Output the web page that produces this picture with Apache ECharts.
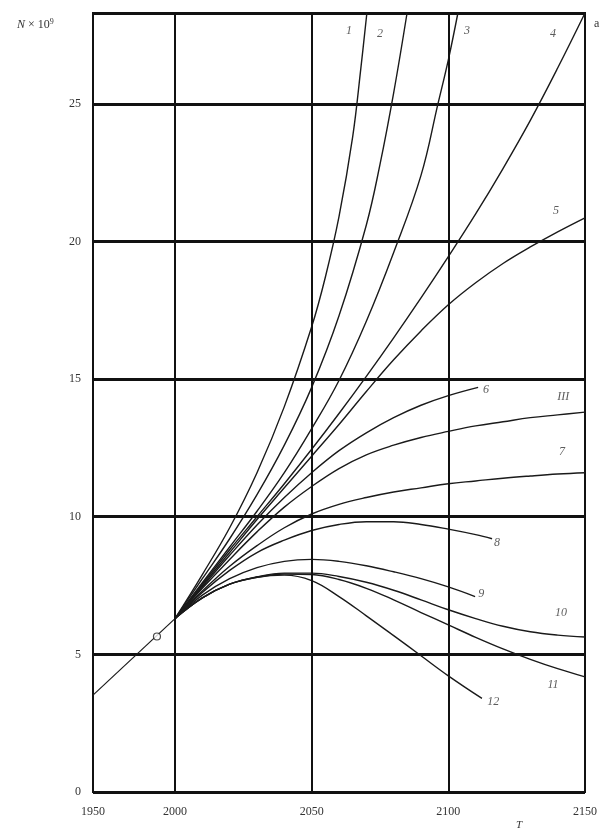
<!DOCTYPE html>
<html><head><meta charset="UTF-8">
<title>N x 10^9 forecast</title>
<script src="https://cdn.jsdelivr.net/npm/echarts@6/dist/echarts.min.js"></script>
<style>html,body{margin:0;padding:0;background:#fff}#chart{width:611px;height:836px}</style>
</head>
<body>
<div id="chart"></div>
<script>
// x tick values and their printed labels (left edge is printed as 1950)
const xTicks = [1970, 2000, 2050, 2100, 2150];
const xTickText = ['1950', '2000', '2050', '2100', '2150'];
const xGrid = [2000, 2050, 2100];

// common history line and the marked point
const baseLine = [[1970, 3.52], [2000, 6.3]];
const marker = [[1993.4, 5.65]];

// forecast curves
const c1 = [[2000,6.3],[2010,7.9],[2020,9.6],[2030,11.6],[2040,14.0],[2050,16.9],[2055,18.7],[2060,20.9],[2065,23.8],[2068,26.3],[2070.2,28.3]];
const c2 = [[2000,6.3],[2010,7.75],[2020,9.2],[2030,10.8],[2040,12.6],[2050,14.7],[2060,17.3],[2070,20.6],[2075,22.8],[2080,25.4],[2084.9,28.3]];
const c3 = [[2000,6.3],[2010,7.6],[2020,8.9],[2030,10.2],[2040,11.6],[2050,13.2],[2060,14.95],[2070,17.1],[2080,19.6],[2090,22.4],[2096.2,25],[2100,26.6],[2103.5,28.3]];
const c4 = [[2000,6.3],[2010,7.55],[2020,8.8],[2030,10.0],[2040,11.2],[2050,12.45],[2060,13.75],[2070,15.1],[2080,16.5],[2090,17.95],[2100,19.45],[2110,21.0],[2120,22.65],[2130,24.4],[2140,26.3],[2150,28.3]];
const c5 = [[2000,6.3],[2010,7.5],[2020,8.7],[2030,9.9],[2040,11.05],[2050,12.2],[2060,13.35],[2070,14.55],[2080,15.7],[2090,16.75],[2100,17.7],[2110,18.5],[2120,19.2],[2130,19.8],[2140,20.35],[2150,20.86]];
const c6 = [[2000,6.3],[2010,7.45],[2020,8.6],[2030,9.7],[2040,10.7],[2050,11.6],[2060,12.4],[2070,13.05],[2080,13.6],[2090,14.05],[2100,14.4],[2110.9,14.7]];
const cIII = [[2000,6.3],[2010,7.4],[2020,8.45],[2030,9.45],[2040,10.35],[2050,11.1],[2060,11.75],[2070,12.25],[2080,12.6],[2090,12.88],[2100,13.1],[2110,13.3],[2120,13.45],[2130,13.6],[2140,13.7],[2150,13.8]];
const c7 = [[2000,6.3],[2010,7.3],[2020,8.2],[2030,8.95],[2040,9.6],[2050,10.1],[2060,10.45],[2070,10.7],[2080,10.9],[2090,11.05],[2100,11.2],[2110,11.3],[2120,11.4],[2130,11.48],[2140,11.55],[2150,11.6]];
const c8 = [[2000,6.3],[2010,7.25],[2020,8.05],[2030,8.7],[2040,9.15],[2050,9.5],[2060,9.72],[2070,9.82],[2080,9.82],[2090,9.72],[2100,9.55],[2110,9.35],[2116,9.2]];
const c9 = [[2000,6.3],[2010,7.15],[2020,7.75],[2030,8.15],[2040,8.38],[2050,8.45],[2060,8.38],[2070,8.22],[2080,8.0],[2090,7.75],[2100,7.45],[2109.8,7.1]];
const c10 = [[2000,6.3],[2010,7.05],[2020,7.55],[2030,7.82],[2040,7.95],[2050,7.95],[2060,7.83],[2070,7.62],[2080,7.33],[2090,6.98],[2100,6.62],[2110,6.3],[2120,6.02],[2130,5.82],[2140,5.7],[2150,5.63]];
const c11 = [[2000,6.3],[2010,7.05],[2020,7.55],[2030,7.8],[2040,7.92],[2050,7.9],[2060,7.72],[2070,7.4],[2080,6.98],[2090,6.52],[2100,6.07],[2110,5.62],[2120,5.2],[2130,4.82],[2140,4.48],[2150,4.18]];
const c12 = [[2000,6.3],[2010,7.05],[2020,7.55],[2030,7.8],[2040,7.88],[2050,7.68],[2060,7.1],[2070,6.4],[2080,5.68],[2090,4.95],[2100,4.22],[2112.3,3.4]];

const curves = [c1, c2, c3, c4, c5, c6, cIII, c7, c8, c9, c10, c11, c12];
const curveNames = ['1', '2', '3', '4', '5', '6', 'III', '7', '8', '9', '10', '11', '12'];
// where each curve number is written
const labelAt = [[2063.7,27.65],[2075.0,27.55],[2106.8,27.65],[2138.3,27.55],[2139.4,21.1],[2113.8,14.6],[2142,14.35],[2141.6,12.35],[2117.8,9.05],[2112,7.2],[2141.2,6.5],[2138.3,3.9],[2116.4,3.27]];

const serif = '"Liberation Serif", "DejaVu Serif", serif';
const chart = echarts.init(document.getElementById('chart'));

const series = [];
series.push({
    type: 'line', data: baseLine, showSymbol: false, silent: true,
    lineStyle: { color: '#1a1a1a', width: 1.2 }, z: 3
});
curves.forEach((d, i) => {
    series.push({
        type: 'line', name: curveNames[i], data: d, smooth: 0.4,
        showSymbol: false, silent: true,
        lineStyle: { color: '#1a1a1a', width: 1.4 }, z: 3
    });
});
series.push({
    type: 'scatter', data: marker, symbol: 'circle', symbolSize: 7, silent: true,
    itemStyle: { color: '#fff', borderColor: '#1a1a1a', borderWidth: 1.2 }, z: 5
});
series.push({
    type: 'scatter', silent: true, symbolSize: 0,
    data: labelAt.map((p, i) => ({ value: p, name: curveNames[i] })),
    label: {
        show: true, position: 'inside', formatter: p => p.name,
        fontFamily: serif, fontStyle: 'italic', fontSize: 12, color: '#333'
    }, z: 6
});
// vertical grid lines
series.push({
    type: 'line', data: [], silent: true,
    markLine: {
        symbol: 'none', silent: true, label: { show: false },
        lineStyle: { color: '#111', width: 2, type: 'solid' },
        data: xGrid.map(v => ({ xAxis: v }))
    }, z: 2
});

chart.setOption({
    animation: false,
    backgroundColor: '#fff',
    grid: {
        left: 93, right: 26, top: 13, bottom: 44,
        show: true, borderColor: '#111', borderWidth: 2
    },
    xAxis: {
        type: 'value', min: 1970, max: 2150,
        axisLine: { show: false }, axisTick: { show: false },
        splitLine: { show: false },
        axisLabel: {
            customValues: xTicks,
            formatter: v => xTickText[xTicks.indexOf(v)] || '',
            fontFamily: serif, fontSize: 12, color: '#333', margin: 14
        }
    },
    yAxis: {
        type: 'value', min: 0, max: 28.3, interval: 5,
        axisLine: { show: false }, axisTick: { show: false },
        splitLine: { show: true, lineStyle: { color: '#111', width: 3 } },
        axisLabel: {
            showMaxLabel: false,
            formatter: v => (v % 5 === 0 ? String(v) : ''),
            fontFamily: serif, fontSize: 12, color: '#333', margin: 12
        }
    },
    graphic: [
        {
            type: 'text', left: 17, top: 18,
            style: {
                text: '{i|N} × 10{s|9}',
                font: '12px ' + serif, fill: '#333',
                rich: {
                    i: { fontStyle: 'italic', fontFamily: serif, fontSize: 12, fill: '#333' },
                    s: { fontSize: 8, fontFamily: serif, verticalAlign: 'top', padding: [0, 0, 6, 0], fill: '#333' }
                }
            }
        },
        { type: 'text', left: 594, top: 18, style: { text: 'a', font: '12px ' + serif, fill: '#333' } },
        { type: 'text', left: 516, top: 820, style: { text: 'T', font: 'italic 11px ' + serif, fill: '#333' } }
    ],
    series: series
});
</script>
</body></html>
